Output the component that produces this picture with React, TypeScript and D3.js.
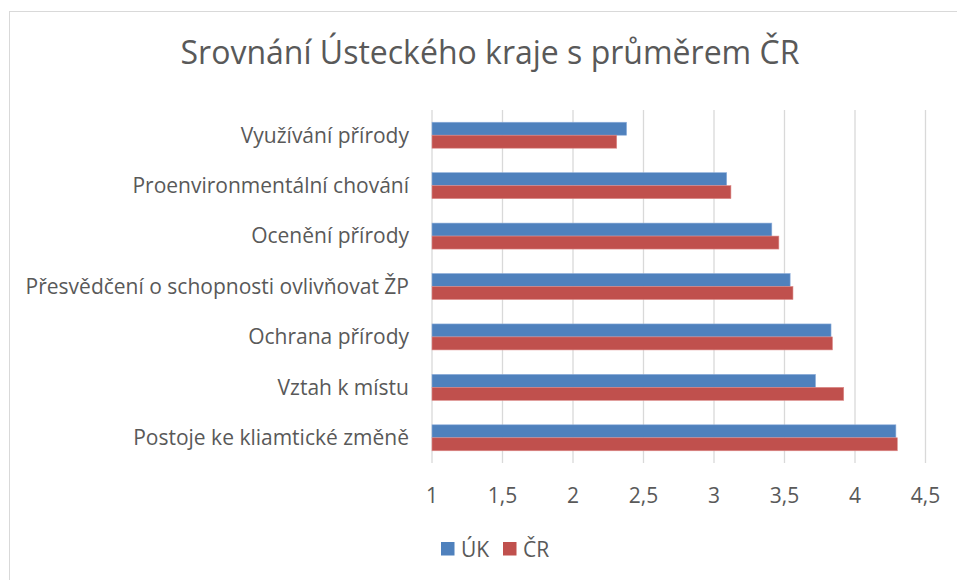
import React, { useEffect, useRef } from 'react';
import * as d3 from 'd3';

const categories = [
  'Využívání přírody',
  'Proenvironmentální chování',
  'Ocenění přírody',
  'Přesvědčení o schopnosti ovlivňovat ŽP',
  'Ochrana přírody',
  'Vztah k místu',
  'Postoje ke kliamtické změně',
];
const seriesNames = ['ÚK', 'ČR'];
const ukValues = [2.38, 3.09, 3.41, 3.54, 3.83, 3.72, 4.29];
const crValues = [2.31, 3.12, 3.46, 3.56, 3.84, 3.92, 4.30];
const xTicks = [1, 1.5, 2, 2.5, 3, 3.5, 4, 4.5];
const colors = ['#4F81BD', '#C0504D'];

const W = 957;
const H = 580;
const FONT = '"Open Sans", sans-serif';
const TEXT = '#595959';

const App = () => {
  const ref = useRef(null);

  useEffect(() => {
    const svg = d3.select(ref.current);
    svg.selectAll('*').remove();

    // chart frame (only top and left edges visible in crop)
    svg.append('rect')
      .attr('x', 9.5).attr('y', 11.5)
      .attr('width', W + 20).attr('height', H + 20)
      .attr('fill', '#fff').attr('stroke', '#d9d9d9');

    svg.append('text')
      .attr('x', 490).attr('y', 64)
      .attr('text-anchor', 'middle')
      .attr('font-family', FONT).attr('font-size', 32)
      .attr('fill', TEXT)
      .text('Srovnání Ústeckého kraje s průměrem ČR');

    const x = d3.scaleLinear().domain([1, 4.5]).range([432, 925.5]);
    const y = d3.scaleBand().domain(categories).range([110, 463]).paddingInner(0.485).paddingOuter(0.2425);
    const sub = d3.scaleBand().domain(seriesNames).range([0, y.bandwidth()]);

    // gridlines
    svg.append('g').selectAll('line').data(xTicks).join('line')
      .attr('x1', d => x(d)).attr('x2', d => x(d))
      .attr('y1', 110).attr('y2', 463)
      .attr('stroke', '#d9d9d9').attr('stroke-width', 1.3);

    const series = [ukValues, crValues];
    series.forEach((vals, si) => {
      svg.append('g').selectAll('rect').data(vals).join('rect')
        .attr('x', x(1))
        .attr('y', (d, i) => y(categories[i]) + sub(seriesNames[si]))
        .attr('width', d => x(d) - x(1))
        .attr('height', sub.bandwidth())
        .attr('fill', colors[si])
        .attr('stroke', si === 0 ? '#8eaedb' : '#dd8a88')
        .attr('stroke-width', 0.6);
    });

    // category labels
    svg.append('g').selectAll('text').data(categories).join('text')
      .attr('x', 409)
      .attr('y', d => y(d) + y.bandwidth() / 2)
      .attr('dy', '0.35em')
      .attr('text-anchor', 'end')
      .attr('font-family', FONT).attr('font-size', 21)
      .attr('fill', TEXT)
      .text(d => d);

    // x tick labels
    svg.append('g').selectAll('text').data(xTicks).join('text')
      .attr('x', d => x(d))
      .attr('y', 503)
      .attr('text-anchor', 'middle')
      .attr('font-family', FONT).attr('font-size', 21)
      .attr('fill', TEXT)
      .text(d => String(d).replace('.', ','));

    // legend
    const legend = svg.append('g');
    const lx = [441, 503];
    seriesNames.forEach((name, i) => {
      legend.append('rect')
        .attr('x', lx[i]).attr('y', 542)
        .attr('width', 13.5).attr('height', 13.5)
        .attr('fill', colors[i]);
      legend.append('text')
        .attr('x', lx[i] + 20).attr('y', 557)
        .attr('font-family', FONT).attr('font-size', 21)
        .attr('fill', TEXT)
        .text(name);
    });
  }, []);

  return (
    <svg ref={ref} width={W} height={H} style={{ position: 'absolute', left: 0, top: 0 }} />
  );
};

export default App;
